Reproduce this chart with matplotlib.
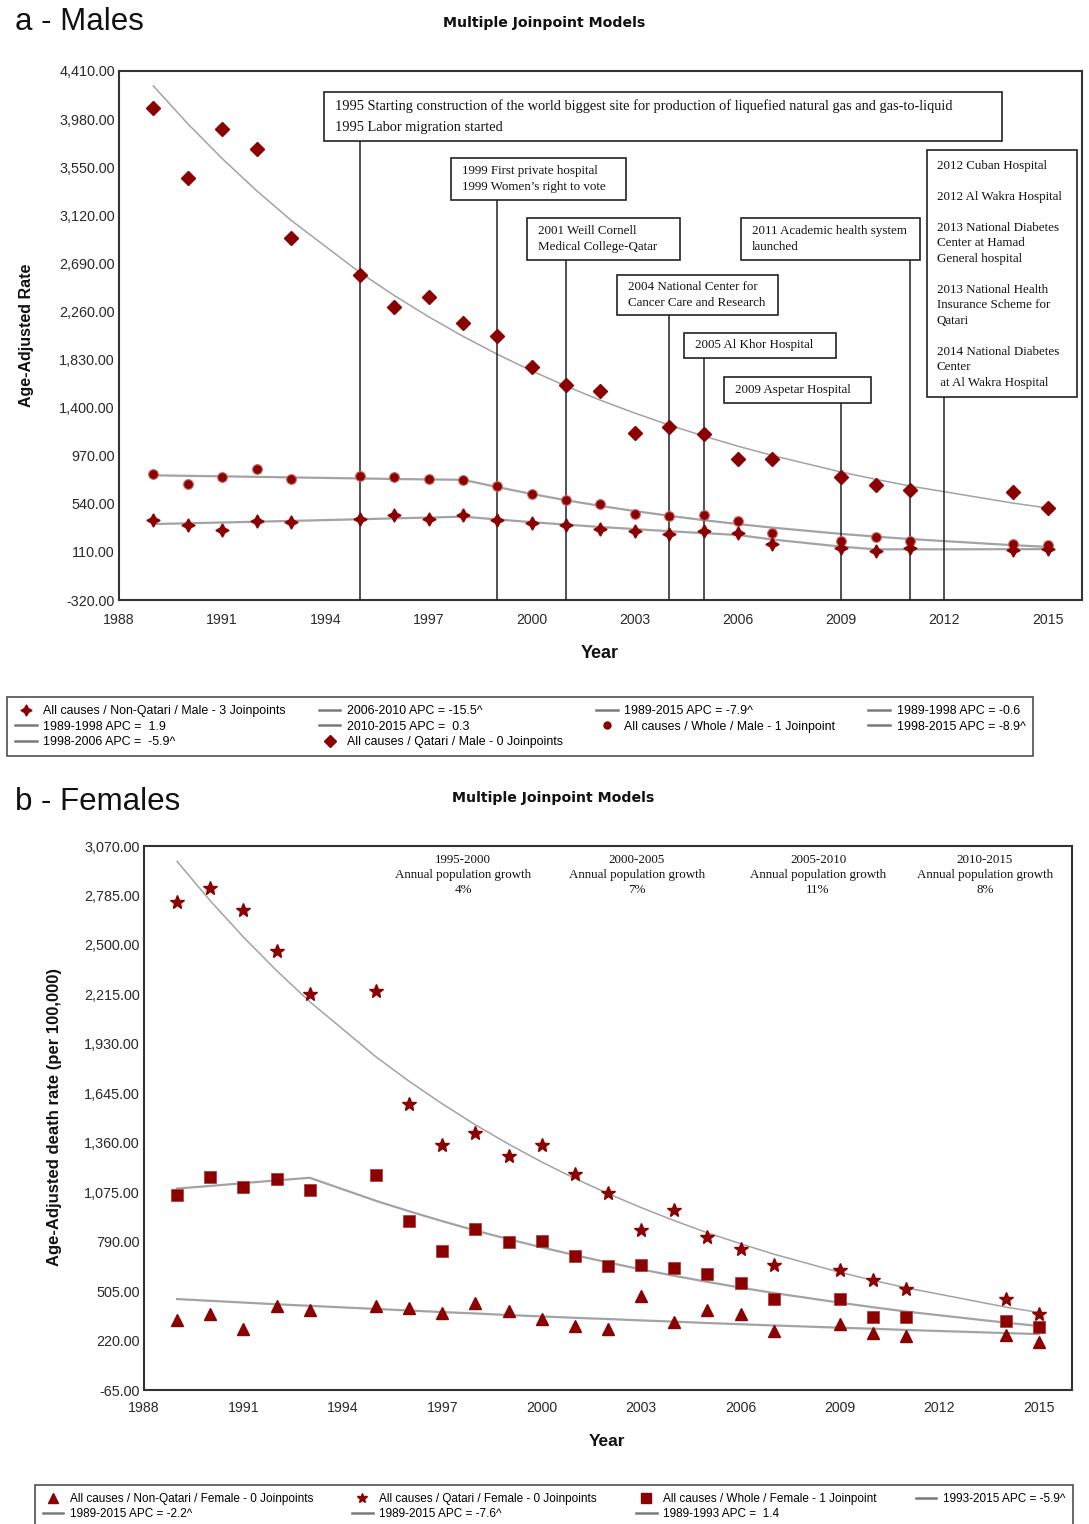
import matplotlib
matplotlib.use("Agg")
import matplotlib.pyplot as plt
from matplotlib.lines import Line2D
from matplotlib.patches import Rectangle
from matplotlib.ticker import FuncFormatter

# ---------------- data ----------------
years = [1989, 1990, 1991, 1992, 1993, 1995, 1996, 1997, 1998, 1999, 2000, 2001,
         2002, 2003, 2004, 2005, 2006, 2007, 2009, 2010, 2011, 2014, 2015]

# Males
male_qatari_obs = [4076, 3451, 3894, 3709, 2919, 2585, 2302, 2388, 2155, 2040, 1760, 1604,
                   1553, 1177, 1225, 1168, 945, 945, 779, 709, 668, 642, 499]
male_qatari_fit = [4276, 3938, 3627, 3340, 3076, 2609, 2403, 2213, 2038, 1877, 1729, 1592,
                   1466, 1351, 1244, 1146, 1055, 972, 824, 759, 699, 546, 503]
male_whole_obs = [805, 719, 776, 849, 760, 789, 776, 763, 757, 703, 629, 575,
                  540, 451, 429, 442, 387, 276, 209, 244, 209, 180, 168]
male_whole_fit = [795, 790, 786, 781, 776, 767, 762, 758, 755, 690, 628, 572,
                  521, 475, 433, 394, 359, 327, 271, 247, 225, 170, 155]
male_nonq_obs = [394, 349, 308, 384, 374, 403, 438, 407, 438, 394, 365, 349,
                 311, 298, 266, 301, 282, 184, 148, 120, 145, 129, 133]
male_nonq_fit = [359, 366, 373, 380, 387, 402, 410, 417, 425, 400, 376, 354,
                 333, 314, 295, 278, 261, 221, 157, 133, 133, 134, 135]

# Females
fem_qatari_obs = [2750, 2829, 2703, 2464, 2218, 2235, 1585, 1348, 1416, 1286, 1346, 1179,
                  1069, 859, 970, 816, 746, 653, 628, 568, 519, 457, 372]
fem_qatari_fit = [2981, 2754, 2545, 2352, 2173, 1855, 1714, 1584, 1463, 1352, 1249, 1154,
                  1067, 986, 911, 841, 778, 718, 613, 567, 524, 413, 382]
fem_whole_obs = [1059, 1162, 1104, 1152, 1086, 1175, 911, 737, 865, 789, 795, 706,
                 647, 657, 640, 605, 550, 461, 461, 358, 354, 333, 296]
fem_whole_fit = [1096, 1111, 1127, 1143, 1158, 1025, 965, 908, 854, 804, 757, 712,
                 670, 630, 593, 558, 525, 494, 438, 412, 387, 323, 304]
fem_nonq_obs = [337, 374, 284, 420, 397, 418, 409, 378, 436, 388, 343, 304,
                284, 475, 325, 395, 372, 275, 313, 266, 245, 253, 213]
fem_nonq_fit = [459, 449, 439, 429, 420, 402, 393, 384, 376, 367, 359, 351,
                344, 336, 329, 321, 314, 307, 294, 288, 281, 263, 257]

male_yticks = [-320, 110, 540, 970, 1400, 1830, 2260, 2690, 3120, 3550, 3980, 4410]
fem_yticks = [-65, 220, 505, 790, 1075, 1360, 1645, 1930, 2215, 2500, 2785, 3070]
xticks = [1988, 1991, 1994, 1997, 2000, 2003, 2006, 2009, 2012, 2015]

male_legend_labels = [
    "All causes / Non-Qatari / Male - 3 Joinpoints",
    "1989-1998 APC =  1.9",
    "1998-2006 APC =  -5.9^",
    "2006-2010 APC = -15.5^",
    "2010-2015 APC =  0.3",
    "All causes / Qatari / Male - 0 Joinpoints",
    "1989-2015 APC = -7.9^",
    "All causes / Whole / Male - 1 Joinpoint",
    "1989-1998 APC = -0.6",
    "1998-2015 APC = -8.9^",
]
fem_legend_labels = [
    "All causes / Non-Qatari / Female - 0 Joinpoints",
    "1989-2015 APC = -2.2^",
    "All causes / Qatari / Female - 0 Joinpoints",
    "1989-2015 APC = -7.6^",
    "All causes / Whole / Female - 1 Joinpoint",
    "1989-1993 APC =  1.4",
    "1993-2015 APC = -5.9^",
]

# events (year, text, box in axes fraction [x0, y0, x1, y1])
events = [
    (1995, "1995 Starting construction of the world biggest site for production of liquefied natural gas and gas-to-liquid\n1995 Labor migration started",
     (0.2129, 0.8677, 0.9169, 0.9603)),
    (1999, "1999 First private hospital\n1999 Women\u2019s right to vote", (0.3448, 0.7561, 0.5265, 0.8355)),
    (2001, "2001 Weill Cornell\nMedical College-Qatar", (0.4237, 0.6427, 0.5826, 0.7221)),
    (2004, "2004 National Center for\nCancer Care and Research", (0.5171, 0.5388, 0.6843, 0.6144)),
    (2005, "2005 Al Khor Hospital", (0.5867, 0.4575, 0.7445, 0.5047)),
    (2009, "2009 Aspetar Hospital", (0.6282, 0.3724, 0.7809, 0.4216)),
    (2011, "2011 Academic health system\nlaunched", (0.6459, 0.6427, 0.8318, 0.7221)),
    (2012, "2012 Cuban Hospital\n\n2012 Al Wakra Hospital\n\n2013 National Diabetes\nCenter at Hamad\nGeneral hospital\n\n"
           "2013 National Health\nInsurance Scheme for\nQatari\n\n2014 National Diabetes\nCenter\n at Al Wakra Hospital",
     (0.8390, 0.3837, 0.9948, 0.8507)),
]

growth_periods = ["1995-2000", "2000-2005", "2005-2010", "2010-2015"]
growth_rates = ["4%", "7%", "11%", "8%"]
growth_xfrac = [0.3438, 0.5312, 0.7263, 0.9062]

# ---------------- style ----------------
RED = "#8b0000"
FIT = "#a3a3a3"
FRAME = "#333333"
SANS = ["Liberation Sans", "DejaVu Sans"]
SERIF = ["Liberation Serif", "DejaVu Serif"]

W, H = 1089, 1524
fig = plt.figure(figsize=(W / 100, H / 100), dpi=100)
fig.patch.set_facecolor("white")


def ax_rect(l, r, t, b):
    return [l / W, 1 - b / H, (r - l) / W, (b - t) / H]


def style_axes(ax, yticks, ylim, xpad, ypad):
    ax.set_xlim(1988, 2016)
    ax.set_ylim(*ylim)
    ax.set_xticks(xticks)
    ax.set_yticks(yticks)
    ax.yaxis.set_major_formatter(FuncFormatter(lambda v, p: f"{v:,.2f}"))
    ax.tick_params(length=0, labelsize=10.4, labelcolor="#2a2a2a", pad=ypad, axis="y")
    ax.tick_params(length=0, labelsize=10.2, labelcolor="#2a2a2a", pad=xpad, axis="x")
    for lab in ax.get_xticklabels() + ax.get_yticklabels():
        lab.set_family(SANS)
    for s in ax.spines.values():
        s.set_color(FRAME)
        s.set_linewidth(1.5)


# ================= Panel a: Males =================
axA = fig.add_axes(ax_rect(119, 1082, 71, 600))
style_axes(axA, male_yticks, (-320, 4410), 9, 3)

axA.plot(years, male_qatari_fit, color=FIT, lw=1.1, zorder=2)
axA.plot(years, male_whole_fit, color=FIT, lw=1.6, zorder=2)
axA.plot(years, male_nonq_fit, color=FIT, lw=1.6, zorder=2)
axA.plot(years, male_qatari_obs, ls="none", marker="D", ms=7, color=RED, mec=RED, zorder=5)
axA.plot(years, male_whole_obs, ls="none", marker="o", ms=7, color=RED, mec="#c76b6b", mew=0.8, zorder=5)
axA.plot(years, male_nonq_obs, ls="none", marker=(4, 1, 0), ms=9.5, color=RED, mec=RED, zorder=5)

for yr, txt, (x0, y0, x1, y1) in events:
    axA.axvline(yr, ymin=0, ymax=y0, color="#222222", lw=1.1, zorder=3)
    axA.add_patch(Rectangle((x0, y0), x1 - x0, y1 - y0, transform=axA.transAxes,
                            facecolor="white", edgecolor="#222222", lw=1.2, zorder=6))
    if yr == 2012:
        axA.text(x0 + 0.0104, y1 - 0.018, txt, transform=axA.transAxes, ha="left", va="top",
                 fontsize=9.4, family=SERIF, color="#111111", linespacing=1.39, zorder=7)
    elif yr == 1995:
        axA.text(x0 + 0.0114, (y0 + y1) / 2, txt, transform=axA.transAxes, ha="left", va="center",
                 fontsize=10.4, family=SERIF, color="#111111", linespacing=1.85, zorder=7)
    else:
        axA.text(x0 + 0.0110, (y0 + y1) / 2, txt, transform=axA.transAxes, ha="left", va="center",
                 fontsize=9.4, family=SERIF, color="#111111", linespacing=1.42, zorder=7)

fig.text(15 / W, 1 - 22 / H, "a - Males", fontsize=22.5, family=SANS, ha="left", va="center", color="#111111")
fig.text(544 / W, 1 - 23 / H, "Multiple Joinpoint Models", fontsize=10.2, family=["DejaVu Sans"],
         weight="bold", ha="center", va="center", color="#111111")
fig.text(27 / W, 1 - 335 / H, "Age-Adjusted Rate", rotation=90, fontsize=11.5, family=SANS,
         weight="bold", ha="center", va="center", color="#111111")
fig.text(600 / W, 1 - 653 / H, "Year", fontsize=13, family=SANS, weight="bold", ha="center",
         va="center", color="#111111")

mk_nq = Line2D([], [], ls="none", marker=(4, 1, 0), ms=8, color=RED)
mk_q = Line2D([], [], ls="none", marker="D", ms=6, color=RED)
mk_w = Line2D([], [], ls="none", marker="o", ms=5, color=RED)


def seg():
    return Line2D([], [], color="#7a7a7a", lw=1.8)


LEG_KW = dict(ncol=4, loc="upper left", bbox_transform=fig.transFigure,
              frameon=True, fancybox=False, edgecolor="#222222", handlelength=1.75,
              handletextpad=0.55, labelspacing=0.3, borderpad=0.65, borderaxespad=0)

handlesA = [mk_nq, seg(), seg(), seg(), seg(), mk_q, seg(), mk_w, seg(), seg()]
legA = axA.legend(handlesA, male_legend_labels, bbox_to_anchor=(7 / W, 1 - 697 / H),
                  prop={"family": SANS, "size": 8.9}, columnspacing=2.65, **LEG_KW)
legA.get_frame().set_linewidth(1.2)

# ================= Panel b: Females =================
axB = fig.add_axes(ax_rect(144, 1072, 846, 1390))
style_axes(axB, fem_yticks, (-65, 3070), 8, 3)

axB.plot(years, fem_qatari_fit, color=FIT, lw=1.1, zorder=2)
axB.plot(years, fem_whole_fit, color=FIT, lw=1.6, zorder=2)
axB.plot(years, fem_nonq_fit, color=FIT, lw=1.6, zorder=2)
axB.plot(years, fem_qatari_obs, ls="none", marker="*", ms=10, color=RED, mec=RED, zorder=5)
axB.plot(years, fem_whole_obs, ls="none", marker="s", ms=8, color=RED, mec="#b04040", mew=0.6, zorder=5)
axB.plot(years, fem_nonq_obs, ls="none", marker="^", ms=8, color=RED, mec=RED, zorder=5)

for per, rate, fx in zip(growth_periods, growth_rates, growth_xfrac):
    axB.text(fx, 0.986, f"{per}\nAnnual population growth\n{rate}", transform=axB.transAxes,
             ha="center", va="top", fontsize=9.4, family=SERIF, color="#111111", linespacing=1.33)

fig.text(15 / W, 1 - 802 / H, "b - Females", fontsize=22.5, family=SANS, ha="left", va="center", color="#111111")
fig.text(553 / W, 1 - 798 / H, "Multiple Joinpoint Models", fontsize=10.2, family=["DejaVu Sans"],
         weight="bold", ha="center", va="center", color="#111111")
fig.text(55 / W, 1 - 1117 / H, "Age-Adjusted death rate (per 100,000)", rotation=90, fontsize=12,
         family=SANS, weight="bold", ha="center", va="center", color="#111111")
fig.text(607 / W, 1 - 1442 / H, "Year", fontsize=12.5, family=SANS, weight="bold", ha="center",
         va="center", color="#111111")

mk_tri = Line2D([], [], ls="none", marker="^", ms=6.5, color=RED)
mk_star = Line2D([], [], ls="none", marker="*", ms=7, color=RED)
mk_sq = Line2D([], [], ls="none", marker="s", ms=6.5, color=RED)
handlesB = [mk_tri, seg(), mk_star, seg(), mk_sq, seg(), seg()]
legB = axB.legend(handlesB, fem_legend_labels, bbox_to_anchor=(35 / W, 1 - 1485 / H),
                  prop={"family": SANS, "size": 8.5}, columnspacing=3.3, **LEG_KW)
legB.get_frame().set_linewidth(1.2)

fig.savefig("out.png", dpi=100, facecolor="white")
